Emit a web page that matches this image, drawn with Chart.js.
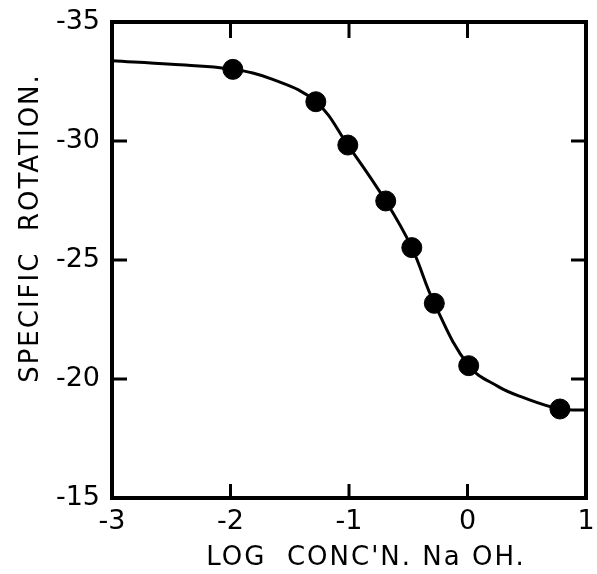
<!DOCTYPE html>
<html>
<head>
<meta charset="utf-8">
<script src="https://cdn.jsdelivr.net/npm/chart.js@4.4.1/dist/chart.umd.min.js"></script>
<style>
  html, body { margin: 0; padding: 0; background: #fff; }
  #wrap { width: 597px; height: 574px; }
</style>
</head>
<body>
<div id="wrap"><canvas id="rotationChart"></canvas></div>
<script>
// measured points (log conc'n vs specific rotation)
var pointX = [-1.98, -1.28, -1.01, -0.69, -0.47, -0.28, 0.01, 0.78];
var pointY = [-33.01, -31.65, -29.83, -27.48, -25.52, -23.18, -20.56, -18.74];

// hand drawn fitted curve
var curveX = [-3, -2.5, -1.98, -1.65, -1.28, -1.01, -0.69, -0.47, -0.28, 0.01, 0.26, 0.45, 0.78, 1];
var curveY = [-33.37, -33.22, -33.01, -32.6, -31.65, -29.83, -27.48, -25.52, -23.18, -20.56, -19.68, -19.26, -18.74, -18.7];

var xTickValues = [-3, -2, -1, 0, 1];
var xTickLabels = ['-3', '-2', '-1', '0', '1'];
var yTickValues = [-35, -30, -25, -20, -15];
var yTickLabels = ['-35', '-30', '-25', '-20', '-15'];

var xTitle = "LOG  CONC'N. Na OH.";
var yTitle = 'SPECIFIC  ROTATION.';

var FONT = '"DejaVu Sans", sans-serif';

function toPoints(xs, ys) {
  return xs.map(function (x, i) { return {x: x, y: ys[i]}; });
}

// frame, inward ticks and axis titles
var framePlugin = {
  id: 'frame',
  afterDraw: function (chart) {
    var ctx = chart.ctx;
    var a = chart.chartArea;
    var xs = chart.scales.x;
    var ys = chart.scales.y;
    ctx.save();
    ctx.strokeStyle = '#000';
    ctx.lineWidth = 4;
    ctx.strokeRect(a.left, a.top, a.right - a.left, a.bottom - a.top);

    ctx.lineWidth = 3;
    ctx.beginPath();
    xTickValues.forEach(function (v) {
      var px = xs.getPixelForValue(v);
      if (px <= a.left + 2 || px >= a.right - 2) return;
      ctx.moveTo(px, a.bottom);
      ctx.lineTo(px, a.bottom - 14);
      ctx.moveTo(px, a.top);
      ctx.lineTo(px, a.top + 16);
    });
    yTickValues.forEach(function (v) {
      var py = ys.getPixelForValue(v);
      if (py <= a.top + 2 || py >= a.bottom - 2) return;
      ctx.moveTo(a.left, py);
      ctx.lineTo(a.left + 15, py);
      ctx.moveTo(a.right, py);
      ctx.lineTo(a.right - 15, py);
    });
    ctx.stroke();

    ctx.fillStyle = '#000';
    ctx.font = '26px ' + FONT;
    ctx.letterSpacing = '2px';
    ctx.textAlign = 'center';
    ctx.textBaseline = 'middle';
    ctx.fillText(xTitle, 366, 558);

    ctx.translate(31, 228);
    ctx.rotate(-Math.PI / 2);
    ctx.fillText(yTitle, 0, 0);
    ctx.restore();
  }
};

var ctx = document.getElementById('rotationChart');
var myChart = new Chart(ctx, {
  type: 'scatter',
  data: {
    datasets: [{
        label: 'Curve',
        data: toPoints(curveX, curveY),
        showLine: true,
        borderColor: '#000',
        borderWidth: 3,
        pointRadius: 0,
        tension: 0.4,
        fill: false
      },
      {
        label: 'Measured',
        data: toPoints(pointX, pointY),
        showLine: false,
        pointRadius: 10,
        pointHoverRadius: 10,
        backgroundColor: '#000',
        borderColor: '#000'
      }
    ]
  },
  options: {
    responsive: true,
    maintainAspectRatio: false,
    animation: false,
    layout: {
      padding: {left: 0, right: 1, top: 22, bottom: 0}
    },
    scales: {
      x: {
        type: 'linear',
        min: -3,
        max: 1,
        afterBuildTicks: function (scale) {
          scale.ticks = xTickValues.map(function (v) { return {value: v}; });
        },
        afterFit: function (scale) {
          scale.height = 76;
          scale.paddingLeft = 0;
          scale.paddingRight = 0;
        },
        grid: {display: false, drawTicks: false},
        border: {display: false},
        ticks: {
          color: '#000',
          font: {family: FONT, size: 27},
          padding: 8,
          maxRotation: 0,
          autoSkip: false,
          callback: function (value) {
            return xTickLabels[xTickValues.indexOf(value)];
          }
        }
      },
      y: {
        type: 'linear',
        min: -35,
        max: -15,
        reverse: true,
        afterBuildTicks: function (scale) {
          scale.ticks = yTickValues.map(function (v) { return {value: v}; });
        },
        afterFit: function (scale) {
          scale.width = 112;
          scale.paddingTop = 0;
          scale.paddingBottom = 0;
        },
        grid: {display: false, drawTicks: false},
        border: {display: false},
        ticks: {
          color: '#000',
          font: {family: FONT, size: 27},
          padding: 12,
          autoSkip: false,
          callback: function (value) {
            return yTickLabels[yTickValues.indexOf(value)];
          }
        }
      }
    },
    plugins: {
      legend: {display: false},
      tooltip: {enabled: false}
    }
  },
  plugins: [framePlugin]
});
</script>
</body>
</html>
